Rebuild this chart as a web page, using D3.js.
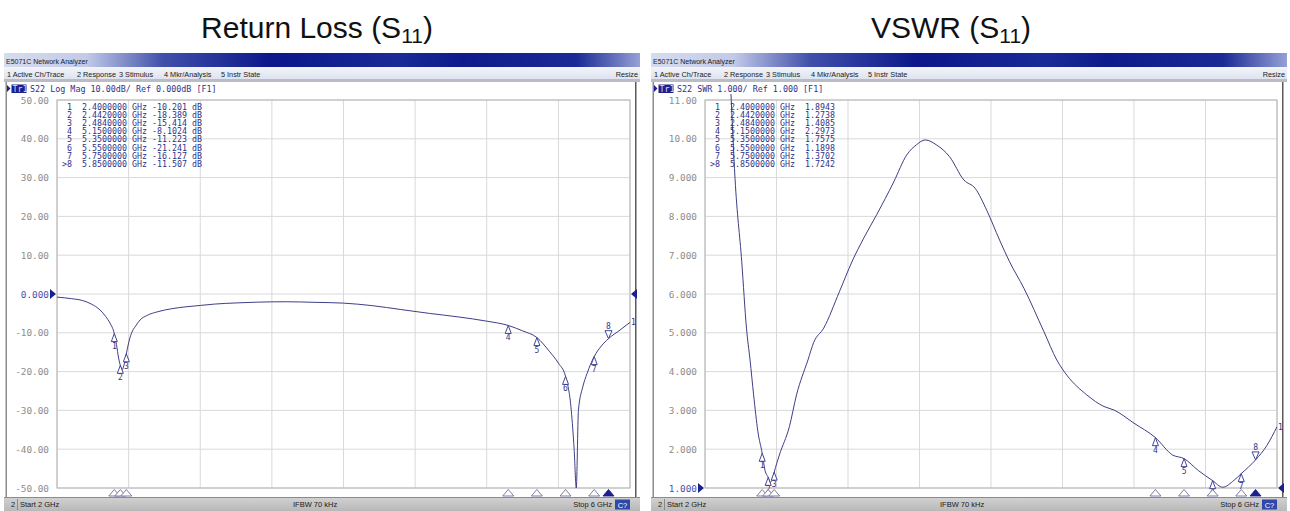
<!DOCTYPE html>
<html>
<head>
<meta charset="utf-8">
<script src="https://cdn.jsdelivr.net/npm/d3@7"></script>
<style>
  body { margin: 0; background: #fff; }
  svg { display: block; }
  .mono { font-family: "DejaVu Sans Mono", "Liberation Mono", monospace; }
  .ui { font-family: "Liberation Sans", Arial, sans-serif; }
</style>
</head>
<body>
<svg id="chart" width="1290" height="511"></svg>
<script>
const markerIds = ["1", "2", "3", "4", "5", "6", "7", ">8"];
const markerFreq = [2.4, 2.442, 2.484, 5.15, 5.35, 5.55, 5.75, 5.85];
const markerRL = [-10.201, -18.389, -15.414, -8.1024, -11.223, -21.241, -16.127, -11.507];
const markerVSWR = [1.8943, 1.2738, 1.4085, 2.2973, 1.7575, 1.1898, 1.3702, 1.7242];

const rlFreq = [2.00, 2.10, 2.18, 2.24, 2.30, 2.34, 2.37, 2.40, 2.415, 2.43, 2.442, 2.455, 2.47, 2.484,
  2.50, 2.52, 2.55, 2.58, 2.63, 2.70, 2.80, 2.90, 3.00, 3.10, 3.25, 3.40, 3.60, 3.80, 4.00, 4.20,
  4.40, 4.60, 4.80, 5.00, 5.15, 5.25, 5.35, 5.44, 5.50, 5.55, 5.59, 5.61, 5.625, 5.64, 5.67, 5.70,
  5.75, 5.80, 5.85, 5.93, 6.00];
const rlDb = [-0.8, -1.2, -1.7, -2.6, -4.1, -5.8, -7.5, -10.201, -13.0, -16.5, -18.389, -19.5, -18.0, -15.414,
  -12.6, -10.1, -8.2, -6.7, -5.5, -4.6, -3.8, -3.3, -2.95, -2.6, -2.3, -2.1, -2.0, -2.15, -2.35, -3.0,
  -4.0, -5.0, -5.9, -7.0, -8.1024, -9.5, -11.223, -14.9, -17.8, -21.241, -30, -40, -50, -30, -24, -20.5,
  -16.127, -13.4, -11.507, -9.3, -7.3];

const vswrFreq = [2.18, 2.21, 2.257, 2.29, 2.315, 2.34, 2.37, 2.40, 2.42, 2.442, 2.455, 2.47, 2.484,
  2.52, 2.59, 2.64, 2.72, 2.76, 2.83, 2.94, 3.03, 3.11, 3.20, 3.32, 3.41, 3.48, 3.54, 3.62, 3.71,
  3.81, 3.89, 3.97, 4.06, 4.13, 4.23, 4.37, 4.46, 4.53, 4.67, 4.79, 4.86, 5.00, 5.15, 5.27, 5.35,
  5.45, 5.55, 5.62, 5.70, 5.75, 5.85, 5.93, 6.00];
const vswrVal = [11.3, 8.98, 6.83, 5.12, 4.30, 3.40, 2.45, 1.8943, 1.45, 1.2738, 1.15, 1.2, 1.4085,
  1.85, 2.58, 3.40, 4.30, 4.75, 5.12, 6.06, 6.85, 7.44, 8.04, 8.89, 9.58, 9.85, 9.97, 9.84, 9.54,
  8.94, 8.72, 8.16, 7.39, 6.83, 6.15, 5.03, 4.30, 3.91, 3.40, 3.10, 3.01, 2.67, 2.2973, 1.85, 1.7575,
  1.45, 1.1898, 1.02, 1.2, 1.3702, 1.7242, 2.1, 2.58];

const rlTicks = ["50.00", "40.00", "30.00", "20.00", "10.00", "0.000", "-10.00", "-20.00", "-30.00", "-40.00", "-50.00"];
const vswrTicks = ["11.00", "10.00", "9.000", "8.000", "7.000", "6.000", "5.000", "4.000", "3.000", "2.000", "1.000"];

const menuItems = ["1 Active Ch/Trace", "2 Response", "3 Stimulus", "4 Mkr/Analysis", "5 Instr State"];
const menuOffsets = [3, 73, 115, 160, 217];

// ---- look ----
const NAVY = "#1c1f8c";
const TRACE = "#3d3f86";
const INK = "#30338a";

const svg = d3.select("#chart");
const defs = svg.append("defs");

const tbar = defs.append("linearGradient").attr("id", "tbar");
[[0, "#d6dcef"], [0.13, "#c2cae8"], [0.25, "#4050aa"], [0.42, "#0b178a"], [0.62, "#1a2a98"],
 [0.72, "#0e1b8c"], [0.9, "#1b2a95"], [1, "#95a0d6"]].forEach(s =>
  tbar.append("stop").attr("offset", s[0]).attr("stop-color", s[1]));

const mbar = defs.append("linearGradient").attr("id", "mbar").attr("x2", 0).attr("y2", 1);
mbar.append("stop").attr("offset", 0).attr("stop-color", "#f3f5fa");
mbar.append("stop").attr("offset", 1).attr("stop-color", "#dde3ef");

const sbar = defs.append("linearGradient").attr("id", "sbar").attr("x2", 0).attr("y2", 1);
sbar.append("stop").attr("offset", 0).attr("stop-color", "#d2d2d2");
sbar.append("stop").attr("offset", 1).attr("stop-color", "#b8b8b8");

const panels = [
  { x0: 4, plotX: 57, plotW: 573, titleX: 317, title: "Return Loss",
    header: "S22 Log Mag 10.00dB/ Ref 0.000dB [F1]", ticks: rlTicks, refLabel: "0.000",
    freq: rlFreq, vals: rlDb, mVals: markerRL, unit: " dB" },
  { x0: 651, plotX: 705, plotW: 572, titleX: 951, title: "VSWR",
    header: "S22 SWR 1.000/ Ref 1.000 [F1]", ticks: vswrTicks, refLabel: "1.000",
    freq: vswrFreq, vals: vswrVal, mVals: markerVSWR, unit: "" }
];

const plotY = 100, plotH = 388, winW = 636;

panels.forEach((p, pi) => {
  const g = svg.append("g");
  const x0 = p.x0;

  // big title above each screen
  const t = g.append("text").attr("class", "ui")
    .attr("x", p.titleX).attr("y", 38).attr("text-anchor", "middle")
    .attr("font-size", 30).attr("fill", "#111");
  t.append("tspan").text(p.title + " (S");
  t.append("tspan").attr("font-size", 21).attr("dy", 5).text("11");
  t.append("tspan").attr("dy", -5).text(")");

  // window chrome
  g.append("rect").attr("x", x0).attr("y", 53).attr("width", winW).attr("height", 14).attr("fill", "url(#tbar)");
  g.append("text").attr("class", "ui").attr("x", x0 + 2).attr("y", 63.5)
    .attr("font-size", 7).attr("fill", "#1a1a2a").text("E5071C Network Analyzer");
  g.append("rect").attr("x", x0).attr("y", 67).attr("width", winW).attr("height", 12).attr("fill", "url(#mbar)");
  g.selectAll(".menu").data(menuItems).join("text").attr("class", "ui")
    .attr("x", (d, i) => x0 + menuOffsets[i]).attr("y", 76.5)
    .attr("font-size", 7.3).attr("fill", "#1a1a1a").text(d => d);
  g.append("text").attr("class", "ui").attr("x", x0 + winW - 2).attr("y", 76.5)
    .attr("text-anchor", "end").attr("font-size", 7.3).attr("fill", "#1a1a1a").text("Resize");
  g.append("rect").attr("x", x0).attr("y", 79).attr("width", winW).attr("height", 3).attr("fill", "#b9bcc4");
  g.append("rect").attr("x", x0).attr("y", 82).attr("width", winW).attr("height", 415).attr("fill", "#fff");
  g.append("rect").attr("x", x0 + 1.5).attr("y", 82).attr("width", 1.5).attr("height", 415).attr("fill", "#8c8c8c");
  g.append("rect").attr("x", x0 + winW - 5).attr("y", 82).attr("width", 1.5).attr("height", 415).attr("fill", "#5a5a5a");

  // status bar
  g.append("rect").attr("x", x0).attr("y", 497).attr("width", winW).attr("height", 14).attr("fill", "url(#sbar)");
  g.append("line").attr("x1", x0).attr("x2", x0 + winW).attr("y1", 497.5).attr("y2", 497.5).attr("stroke", "#8a8a8a");
  g.append("text").attr("class", "ui").attr("x", x0 + 7).attr("y", 507).attr("font-size", 7.5).attr("fill", "#1a1a1a").text("2");
  g.append("line").attr("x1", x0 + 13.5).attr("x2", x0 + 13.5).attr("y1", 499).attr("y2", 510).attr("stroke", "#8a8a8a");
  g.append("text").attr("class", "ui").attr("x", x0 + 16).attr("y", 507).attr("font-size", 7.5).attr("fill", "#1a1a1a").text("Start 2 GHz");
  g.append("text").attr("class", "ui").attr("x", x0 + 289).attr("y", 507).attr("font-size", 7.5).attr("fill", "#1a1a1a").text("IFBW 70 kHz");
  g.append("text").attr("class", "ui").attr("x", x0 + 608).attr("y", 507).attr("text-anchor", "end")
    .attr("font-size", 7.5).attr("fill", "#1a1a1a").text("Stop 6 GHz");
  g.append("rect").attr("x", x0 + 611).attr("y", 499.5).attr("width", 15).attr("height", 10).attr("fill", "#3048a8");
  g.append("text").attr("class", "ui").attr("x", x0 + 618.5).attr("y", 507.5).attr("text-anchor", "middle")
    .attr("font-size", 7.5).attr("fill", "#fff").text("C?");

  // trace header
  g.append("path").attr("d", `M${x0 + 3},85 L${x0 + 6.5},88.5 L${x0 + 3},92 Z`).attr("fill", NAVY);
  g.append("rect").attr("x", x0 + 7.5).attr("y", 84.5).attr("width", 15).attr("height", 8.5).attr("fill", NAVY);
  g.append("text").attr("class", "mono").attr("x", x0 + 8.5).attr("y", 91.5)
    .attr("font-size", 8.4).attr("fill", "#d8dcff").text("Tr1");
  g.append("text").attr("class", "mono").attr("x", x0 + 26).attr("y", 91.5)
    .attr("font-size", 8.4).attr("fill", INK).attr("xml:space", "preserve").text(p.header);

  // scales
  const tickVals = p.ticks.map(Number);
  const x = d3.scaleLinear().domain([2, 6]).range([p.plotX, p.plotX + p.plotW]);
  const y = d3.scaleLinear().domain(d3.extent(tickVals)).range([plotY + plotH, plotY]);

  // graticule
  g.selectAll(".vg").data(x.ticks(10)).join("line")
    .attr("x1", d => x(d)).attr("x2", d => x(d)).attr("y1", plotY).attr("y2", plotY + plotH)
    .attr("stroke", "#d9d9d9");
  g.selectAll(".hg").data(tickVals).join("line")
    .attr("x1", p.plotX).attr("x2", p.plotX + p.plotW).attr("y1", d => y(d)).attr("y2", d => y(d))
    .attr("stroke", "#d9d9d9");
  g.append("rect").attr("x", p.plotX).attr("y", plotY).attr("width", p.plotW).attr("height", plotH)
    .attr("fill", "none").attr("stroke", "#b4b4b4");

  // y labels
  const ax = g.append("g").attr("transform", `translate(${p.plotX - 8},0)`)
    .call(d3.axisLeft(y).tickValues(tickVals).tickSize(0).tickPadding(0)
      .tickFormat((d, i) => p.ticks[i]));
  ax.select(".domain").remove();
  ax.selectAll("text").attr("class", "mono").attr("font-size", 9.4)
    .attr("fill", (d, i) => p.ticks[i] === p.refLabel ? "#4a4fa8" : "#8c8c8c");

  // reference level arrows
  const refY = y(Number(p.refLabel));
  g.append("path").attr("d", `M${p.plotX - 7},${refY - 5} L${p.plotX - 1},${refY} L${p.plotX - 7},${refY + 5} Z`).attr("fill", NAVY);
  g.append("path").attr("d", `M${p.plotX + p.plotW + 1},${refY} L${p.plotX + p.plotW + 7},${refY - 5} L${p.plotX + p.plotW + 7},${refY + 5} Z`).attr("fill", NAVY);

  // trace
  const clipId = "clip" + pi;
  defs.append("clipPath").attr("id", clipId).append("rect")
    .attr("x", p.plotX).attr("y", plotY - 6).attr("width", p.plotW).attr("height", plotH + 7);
  const pts = p.freq.map((f, i) => [f, p.vals[i]]);
  g.append("path").datum(pts).attr("clip-path", `url(#${clipId})`)
    .attr("d", d3.line().curve(d3.curveMonotoneX).x(d => x(d[0])).y(d => y(d[1])))
    .attr("fill", "none").attr("stroke", TRACE).attr("stroke-width", 1);

  const last = pts[pts.length - 1];
  g.append("text").attr("class", "mono").attr("x", x(last[0]) + 1).attr("y", y(last[1]) + 3)
    .attr("font-size", 8).attr("fill", INK).text("1");

  // markers on the trace
  const mk = markerFreq.map((f, i) => ({ f, v: p.mVals[i], id: markerIds[i], active: i === markerIds.length - 1 }));
  mk.forEach(m => {
    const mx = x(m.f), my = y(m.v);
    const num = m.id.replace(">", "");
    if (m.active) {
      g.append("path").attr("d", `M${mx},${my} L${mx - 3.5},${my - 8} L${mx + 3.5},${my - 8} Z`)
        .attr("fill", "#fff").attr("stroke", INK).attr("stroke-width", 0.9);
      g.append("text").attr("class", "mono").attr("x", mx).attr("y", my - 10).attr("text-anchor", "middle")
        .attr("font-size", 8).attr("fill", INK).text(num);
    } else {
      g.append("path").attr("d", `M${mx},${my} L${mx - 3},${my + 8} L${mx + 3},${my + 8} Z`)
        .attr("fill", "#fff").attr("stroke", INK).attr("stroke-width", 0.9);
      g.append("text").attr("class", "mono").attr("x", mx).attr("y", my + 15).attr("text-anchor", "middle")
        .attr("font-size", 8).attr("fill", INK).text(num);
    }
  });

  // marker position arrows under the graticule
  mk.forEach(m => {
    const mx = x(m.f);
    g.append("path").attr("d", `M${mx},489.5 L${mx - 5.5},496 L${mx + 5.5},496 Z`)
      .attr("fill", m.active ? NAVY : "#fff").attr("stroke", m.active ? NAVY : "#6d6f9c").attr("stroke-width", 0.9);
  });

  // marker readout table
  const rowY = i => 109.5 + i * 8.2;
  g.selectAll(".mid").data(mk).join("text").attr("class", "mono")
    .attr("x", p.plotX + 15).attr("y", (d, i) => rowY(i)).attr("text-anchor", "end")
    .attr("font-size", 8.3).attr("fill", INK).text(d => d.id);
  g.selectAll(".mval").data(mk).join("text").attr("class", "mono")
    .attr("x", p.plotX + 25).attr("y", (d, i) => rowY(i)).attr("xml:space", "preserve")
    .attr("font-size", 8.3).attr("fill", INK)
    .text(d => `${d.f.toFixed(7)} GHz ${d.v.toPrecision(5).padStart(7)}${p.unit}`);
});
</script>
</body>
</html>
